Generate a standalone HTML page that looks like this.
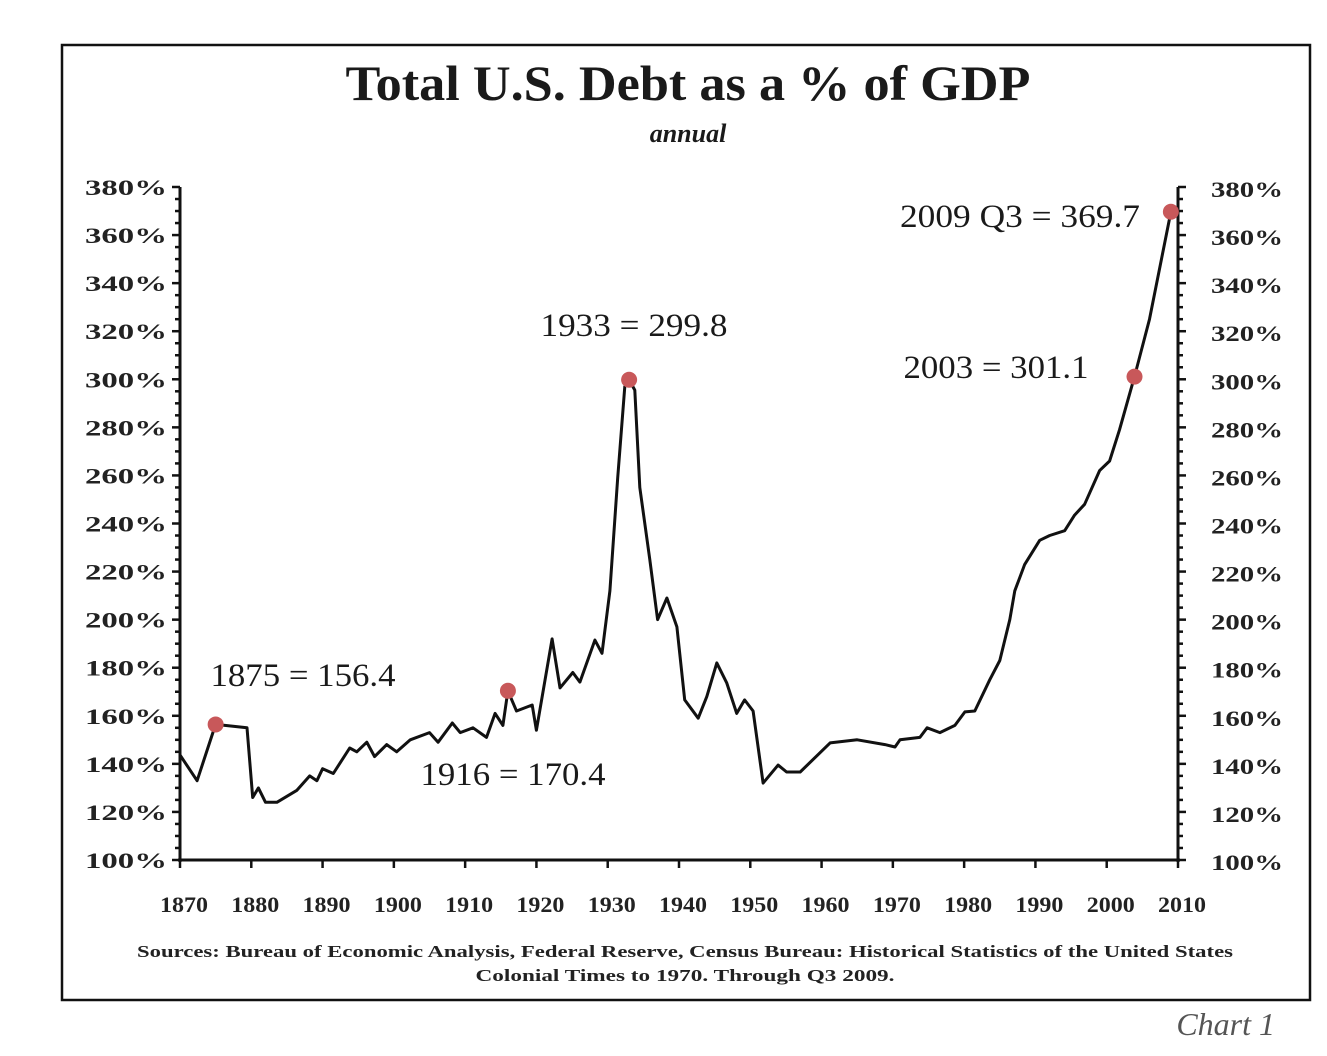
<!DOCTYPE html>
<html><head><meta charset="utf-8"><style>
html,body{margin:0;padding:0;background:#fff;}
body{width:1327px;height:1051px;position:relative;overflow:hidden;font-family:"Liberation Serif",serif;}
</style></head><body>
<svg width="1327" height="1051" viewBox="0 0 1327 1051">
<rect x="62" y="45" width="1248" height="955" fill="#fff" stroke="#111" stroke-width="2.5"/>
<text x="688" y="100" text-anchor="middle" textLength="685" lengthAdjust="spacingAndGlyphs" font-family="Liberation Serif, serif" font-weight="bold" font-size="50" fill="#1a1a1a">Total U.S. Debt as a % of GDP</text>
<text x="688" y="142" text-anchor="middle" font-family="Liberation Serif, serif" font-weight="bold" font-style="italic" font-size="26" fill="#1a1a1a">annual</text>
<g id="axes"></g>
<g id="series"></g>
<g id="notes"></g>
<text x="685" y="957" text-anchor="middle" textLength="1096" lengthAdjust="spacingAndGlyphs" font-family="Liberation Serif, serif" font-weight="bold" font-size="17" fill="#222">Sources: Bureau of Economic Analysis, Federal Reserve, Census Bureau: Historical Statistics of the United States</text>
<text x="685" y="981" text-anchor="middle" textLength="419" lengthAdjust="spacingAndGlyphs" font-family="Liberation Serif, serif" font-weight="bold" font-size="17" fill="#222">Colonial Times to 1970.   Through Q3 2009.</text>
<text x="1275" y="1035" text-anchor="end" font-family="Liberation Serif, serif" font-style="italic" font-size="32" fill="#555">Chart 1</text>
</svg>
<script>
const years = [1870,1872.4,1875,1879.4,1880.2,1881,1882,1883.6,1886.4,1888.2,1889.2,1890,1891.5,1893.8,1894.8,1896.2,1897.3,1899,1900.4,1902.3,1905,1906.2,1908.2,1909.3,1911.1,1913,1914.2,1915.3,1916,1917.2,1919.4,1920,1922.2,1923.3,1925.1,1926.1,1928.2,1929.2,1930.3,1931.4,1932.4,1933,1933.8,1934.5,1935.9,1937,1938.3,1939.7,1940.8,1942.7,1943.9,1945.3,1946.7,1948.1,1949.2,1950.4,1951.8,1953.9,1955.1,1957,1961.2,1965,1968.9,1970.3,1971,1973.8,1974.8,1976.6,1978.7,1980.1,1981.5,1983.6,1985,1986.4,1987.1,1988.5,1990.6,1992,1994.1,1995.5,1996.9,1999,2000.4,2001.8,2003.9,2006,2009];
const debtPct = [143.7,133,156.4,155,126,130,124,124,129,135,133,138,136,146.6,145,149,143,148,145,150,153,149,157,153,155,151,161,156,170.4,162,164.5,154,192,171.6,178,174,191.5,186,212,259,297,299.8,295.5,255,225,200,209,197,166.6,159,168,182,173.6,161,166.6,162,132,139.5,136.6,136.6,148.7,150,148,147,150,151,155,153,156,161.6,162,175,183,200,212,223,233,235,237,243.5,248,262,266,279,301.1,325,369.7];
const markerYears = [1875,1916,1933,2003.9,2009];
const markerVals = [156.4,170.4,299.8,301.1,369.7];
const noteLabels = ["1875 = 156.4","1916 = 170.4","1933 = 299.8","2003 = 301.1","2009 Q3 = 369.7"];
const yTicks = [100,120,140,160,180,200,220,240,260,280,300,320,340,360,380];
const xTicks = [1870,1880,1890,1900,1910,1920,1930,1940,1950,1960,1970,1980,1990,2000,2010];

const X0=180,X1=1178,Y0=860,Y1=187;
const sx=y=>X0+(y-1870)/(2010-1870)*(X1-X0);
const sy=v=>Y0-(v-100)/(380-100)*(Y0-Y1);
const NS="http://www.w3.org/2000/svg";
function mk(tag,attrs,parent,txt){const e=document.createElementNS(NS,tag);for(const k in attrs)e.setAttribute(k,attrs[k]);if(txt!==undefined)e.textContent=txt;parent.appendChild(e);return e;}
const ax=document.getElementById('axes');
let e;
e=mk('line',{x1:X0,y1:Y1,x2:X0,y2:Y0+2,stroke:'#111','stroke-width':3},ax);


e=mk('line',{x1:X1,y1:Y1,x2:X1,y2:Y0+2,stroke:'#111','stroke-width':3},ax);


e=mk('line',{x1:X0-2,y1:Y0,x2:X1+2,y2:Y0,stroke:'#111','stroke-width':3},ax);


for(let v=100;v<=380;v+=5){
  const big=v%20===0;
  mk('line',{x1:X0,y1:sy(v),x2:X0-(big?8:5),y2:sy(v),stroke:'#111','stroke-width':2.5},ax);
  mk('line',{x1:X1,y1:sy(v),x2:X1+(big?8:5),y2:sy(v),stroke:'#111','stroke-width':2.5},ax);
}
yTicks.forEach(v=>{
  e=mk('text',{x:126,y:sy(v)+8,'text-anchor':'middle',textLength:82,lengthAdjust:'spacingAndGlyphs','font-family':'Liberation Serif, serif','font-weight':'bold','font-size':22,fill:'#222'},ax,v+'%');
  
  
  e=mk('text',{x:1247,y:sy(v)+10,'text-anchor':'middle',textLength:72,lengthAdjust:'spacingAndGlyphs','font-family':'Liberation Serif, serif','font-weight':'bold','font-size':22,fill:'#222'},ax,v+'%');
  
  
});
xTicks.forEach(y=>{
  mk('line',{x1:sx(y),y1:Y0,x2:sx(y),y2:Y0+8,stroke:'#111','stroke-width':2.5},ax);
  e=mk('text',{x:sx(y)+4,y:912,'text-anchor':'middle',textLength:48,lengthAdjust:'spacingAndGlyphs','font-family':'Liberation Serif, serif','font-weight':'bold','font-size':22,fill:'#222'},ax,String(y));
  
  
});
const sr=document.getElementById('series');
const d=years.map((y,i)=>(i?'L':'M')+sx(y).toFixed(1)+','+sy(debtPct[i]).toFixed(1)).join(' ');
e=mk('path',{d:d,fill:'none',stroke:'#111','stroke-width':3,'stroke-linejoin':'round'},sr);


markerYears.forEach((y,i)=>{
  e=mk('circle',{cx:sx(y),cy:sy(markerVals[i]),r:8,fill:'#c8585a'},sr);
  
  
});
const nt=document.getElementById('notes');
const notePos=[[303,686,185],[513,785,185],[634,336,187],[996,378,185],[1020,227,240]];
noteLabels.forEach((t,i)=>{
  e=mk('text',{x:notePos[i][0],y:notePos[i][1],'text-anchor':'middle',textLength:notePos[i][2],lengthAdjust:'spacingAndGlyphs','font-family':'Liberation Serif, serif','font-size':33,fill:'#1a1a1a'},nt,t);
  
  
});
</script>
</body></html>
